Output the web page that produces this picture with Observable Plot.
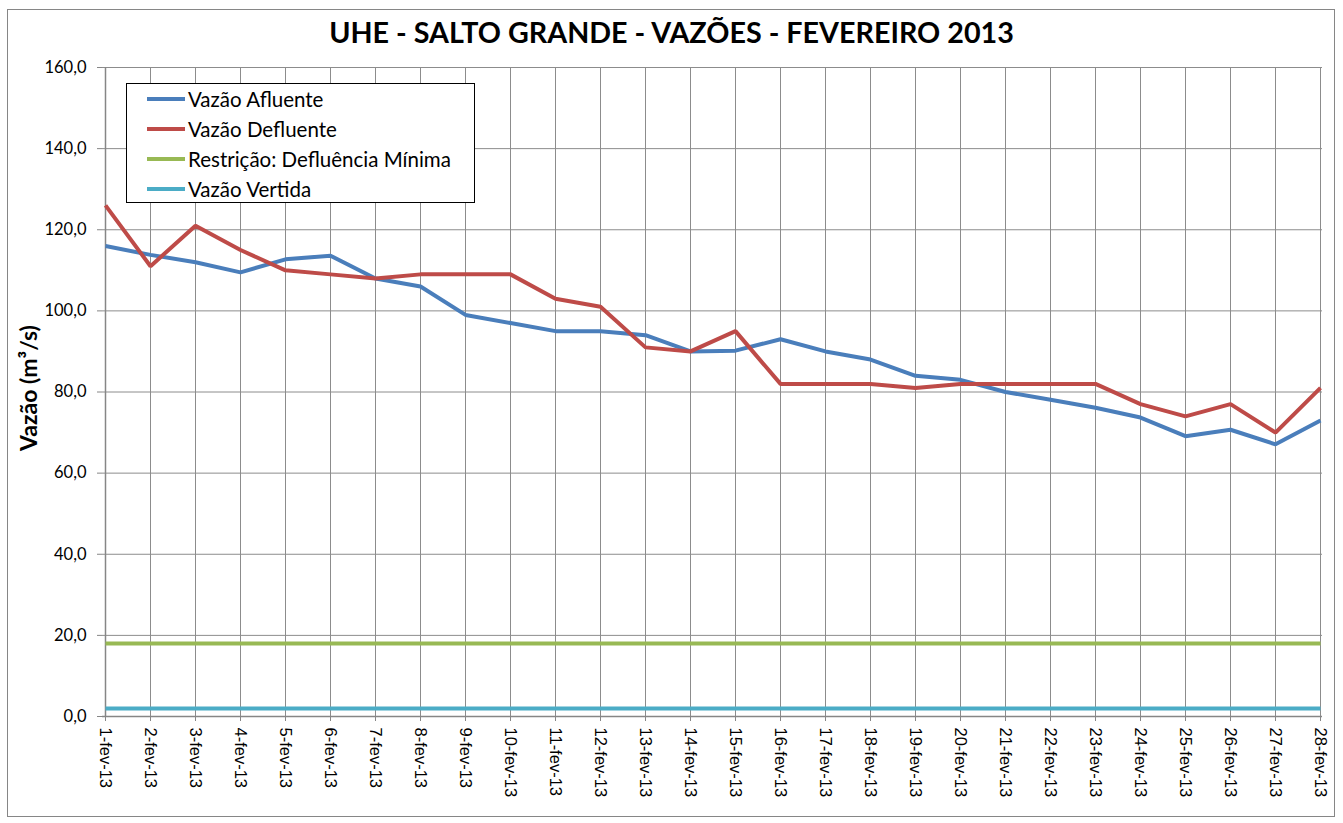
<!DOCTYPE html>
<html>
<head>
<meta charset="utf-8">
<script src="https://cdn.jsdelivr.net/npm/d3@7"></script>
<script src="https://cdn.jsdelivr.net/npm/@observablehq/plot@0.6"></script>
<style>
  html, body { margin: 0; padding: 0; background: #fff; }
  #wrap { position: relative; width: 1343px; height: 823px; overflow: hidden; }
  #border { position: absolute; left: 7px; top: 9px; width: 1328px; height: 808px; border: 1px solid #868686; box-sizing: border-box; }
  #title { position: absolute; left: 0; width: 1343px; top: 15px; text-align: center; font-family: Lato, sans-serif; font-weight: 700; font-size: 28.7px; color: #000; }
  #ylabel { position: absolute; left: 28px; top: 388px; transform: translate(-50%, -50%) rotate(-90deg); font-family: Lato, sans-serif; font-weight: 700; font-size: 23px; white-space: nowrap; }
  #legend { position: absolute; left: 126px; top: 83px; width: 349px; height: 120px; border: 1px solid #000; background: #fff; box-sizing: border-box; font-family: Lato, sans-serif; font-size: 20.5px; }
  .item { position: absolute; left: 20px; height: 30px; display: flex; align-items: center; }
  .sw { width: 38px; height: 4px; margin-right: 3px; }
  #chart { position: absolute; left: 0; top: 0; }
</style>
</head>
<body>
<div id="wrap">
  <div id="border"></div>
  <div id="chart"></div>
  <div id="title">UHE - SALTO GRANDE - VAZÕES - FEVEREIRO 2013</div>
  <div id="ylabel">Vazão (m³/s)</div>
  <div id="legend"></div>
</div>
<script>
const days = ["1-fev-13","2-fev-13","3-fev-13","4-fev-13","5-fev-13","6-fev-13","7-fev-13","8-fev-13","9-fev-13","10-fev-13","11-fev-13","12-fev-13","13-fev-13","14-fev-13","15-fev-13","16-fev-13","17-fev-13","18-fev-13","19-fev-13","20-fev-13","21-fev-13","22-fev-13","23-fev-13","24-fev-13","25-fev-13","26-fev-13","27-fev-13","28-fev-13"];
const afluente = [116,113.8,112,109.5,112.7,113.6,108,106,99,97,95,95,94,90,90.2,93,90,88,84,83,80,78.1,76.1,73.7,69.1,70.7,67.1,73];
const defluente = [126,111,121,115,110,109,108,109,109,109,103,101,91,90,95,82,82,82,81,82,82,82,82,77,74,77,70,81];
const defluenciaMinima = [18,18,18,18,18,18,18,18,18,18,18,18,18,18,18,18,18,18,18,18,18,18,18,18,18,18,18,18];
const vazaoVertida = [2,2,2,2,2,2,2,2,2,2,2,2,2,2,2,2,2,2,2,2,2,2,2,2,2,2,2,2];
const seriesNames = ["Vazão Afluente","Vazão Defluente","Restrição: Defluência Mínima","Vazão Vertida"];
const seriesColors = ["#4A7EBB","#BE4B48","#98B954","#4BACC6"];
const yTicks = [0,20,40,60,80,100,120,140,160];

const seriesValues = [afluente, defluente, defluenciaMinima, vazaoVertida];
const data = [];
// draw order: green, cyan, blue, red (red on top)
[2,3,0,1].forEach(si => {
  seriesValues[si].forEach((v, i) => data.push({day: days[i], v, series: seriesNames[si]}));
});

const fmt = d => d.toFixed(1).replace(".", ",");

const chart = Plot.plot({
  width: 1343,
  height: 823,
  marginLeft: 102,
  marginRight: 21,
  marginTop: 67,
  marginBottom: 107,
  style: {fontFamily: "Lato, sans-serif", background: "transparent", overflow: "visible"},
  x: {type: "point", domain: days, padding: 0},
  y: {domain: [0, 160]},
  color: {domain: seriesNames, range: seriesColors},
  marks: [
    Plot.gridX(days, {stroke: "#8c8c8c", strokeOpacity: 1, strokeWidth: 1}),
    Plot.gridY(yTicks, {stroke: "#8c8c8c", strokeOpacity: 1, strokeWidth: 1}),
    Plot.ruleX([days[0]], {stroke: "#868686", strokeWidth: 1.5}),
    Plot.ruleY([0], {stroke: "#868686", strokeWidth: 1.5}),
    Plot.line(data, {x: "day", y: "v", z: "series", stroke: "series", strokeWidth: 4, strokeLinejoin: "miter", strokeLinecap: "butt"}),
    Plot.axisY({ticks: yTicks, tickFormat: fmt, tickSize: 5, tickPadding: 11, label: null, stroke: "#868686", fill: "#000", fontSize: 16.5, fontFamily: "Lato"}),
    Plot.axisX({ticks: days, tickRotate: 90, tickSize: 5, tickPadding: 6, label: null, stroke: "#868686", fill: "#000", fontSize: 16.5, fontFamily: "Liberation Sans"})
  ]
});
document.getElementById("chart").appendChild(chart);

const legend = document.getElementById("legend");
seriesNames.forEach((name, i) => {
  const it = document.createElement("div");
  it.className = "item";
  it.style.top = (0 + i * 30) + "px";
  const sw = document.createElement("div");
  sw.className = "sw";
  sw.style.background = seriesColors[i];
  const tx = document.createElement("span");
  tx.textContent = name;
  it.appendChild(sw);
  it.appendChild(tx);
  legend.appendChild(it);
});
</script>
</body>
</html>
